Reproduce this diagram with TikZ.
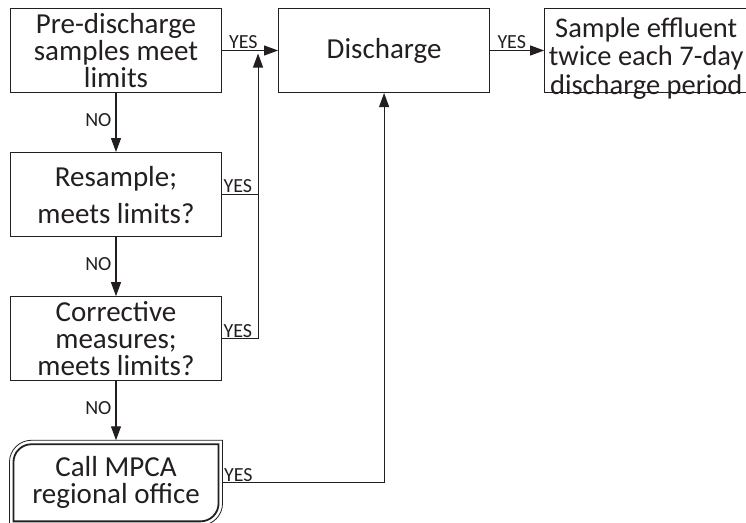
\documentclass[tikz,border=0pt]{standalone}
\usepackage{fontspec}
\setmainfont{Carlito}
\usetikzlibrary{positioning,arrows.meta}
\definecolor{ink}{HTML}{231F20}

\begin{document}
\begin{tikzpicture}[x=1pt, y=1pt, color=ink, line width=1.1pt,
    >={Triangle[length=14pt,width=10pt]},
    node distance=59pt and 55pt,
    flowbox/.style={draw, minimum width=211pt, minimum height=84pt, inner sep=0pt,
        align=center, font=\fontsize{29}{27}\selectfont},
    yeslbl/.style={font=\fontsize{20}{20}\selectfont, inner sep=1pt},
    nolbl/.style={font=\fontsize{20}{20}\selectfont, left, inner sep=4pt, pos=0.45}]
            \useasboundingbox (0,0) rectangle (746,-522);

            % left column
            \node[flowbox] (pre) at (116,-50.5) {Pre-discharge\\samples meet\\limits};
            \node[flowbox, below=of pre] (resample) {Resample;\\[10pt]meets limits?};
            \node[flowbox, below=of resample] (corrective) {Corrective\\measures;\\meets limits?};
            \node[flowbox, draw=none, below=of corrective, minimum width=212pt] (mpca) {Call MPCA\\regional office};

            % top row
            \node[flowbox, right=56pt of pre] (discharge) {Discharge};
            \node[flowbox, right=54pt of discharge] (sample) {};
            \node[align=center, inner sep=0pt, font=\fontsize{28.5}{28.5}\selectfont] (sampletext)
                at ([shift={(-4,-8)}]sample.center) {Sample effluent\\twice each 7-day\\discharge period};

            % double frame of the last box
            \foreach \d/\w/\r in {0/0.8/22, 4/1.8/18}
                \draw[line width=\w pt] ([shift={(\d,-\d-\r)}]mpca.north west)
                    arc[start angle=180, end angle=90, radius=\r]
                    -- ([shift={(-\d,-\d)}]mpca.north east)
                    -- ([shift={(-\d,\d+\r)}]mpca.south east)
                    arc[start angle=0, end angle=-90, radius=\r]
                    -- ([shift={(\d,\d)}]mpca.south west) -- cycle;

            \draw[->] (pre) -- node[nolbl] {NO} (resample);
            \draw[->] (resample) -- node[nolbl] {NO} (corrective);
            \draw[->] (corrective) -- node[nolbl] {NO} (mpca);

            \draw[->] (pre) -- node[yeslbl, above, pos=0.38] {YES} (discharge);
            \draw[->] (discharge) -- node[yeslbl, above, pos=0.4] {YES} (sample);

            \coordinate (merge) at ([shift={(36,-3)}]pre.east);
            \draw[->] (corrective.east) -- node[yeslbl, above right, pos=0] {YES} (corrective.east -| merge) -- (merge);
            \draw (resample.east) -- node[yeslbl, above right, pos=0] {YES} (resample.east -| merge);
            \draw[->] (mpca.east) -| node[yeslbl, above right, pos=0] {YES} (discharge.south);
        \end{tikzpicture}
\end{document}
